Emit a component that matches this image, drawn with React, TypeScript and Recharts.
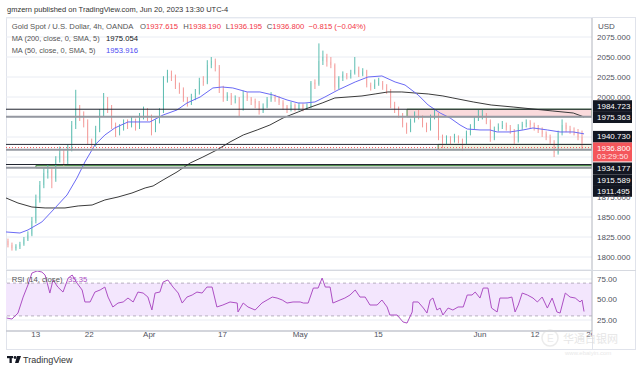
import React from "react";
import {
  ComposedChart,
  Bar,
  Line,
  XAxis,
  YAxis,
  CartesianGrid,
  ReferenceLine,
  ReferenceArea,
} from "recharts";

// ---------- DATA ----------
// Coarse candles: [open, high, low, close]
const candles: [number, number, number, number][] = [
  [1820, 1823, 1812, 1815], [1815, 1818, 1808, 1811], [1811, 1816, 1808, 1813], [1813, 1819, 1810, 1816],
  [1816, 1825, 1814, 1822], [1822, 1832, 1820, 1828], [1828, 1850, 1826, 1845], [1845, 1878, 1842, 1872],
  [1872, 1895, 1868, 1890], [1890, 1912, 1886, 1905], [1905, 1915, 1898, 1908], [1908, 1912, 1886, 1898],
  [1898, 1926, 1894, 1922], [1922, 1938, 1918, 1930], [1930, 1934, 1914, 1920], [1920, 1940, 1916, 1935],
  [1935, 1970, 1932, 1965], [1965, 2009, 1960, 1985], [1985, 1990, 1970, 1975], [1975, 1982, 1962, 1968],
  [1968, 1972, 1940, 1945], [1945, 1948, 1936, 1940], [1940, 1964, 1938, 1960], [1960, 1985, 1956, 1980],
  [1980, 2005, 1976, 1992], [1992, 2000, 1980, 1985], [1985, 1990, 1960, 1965], [1965, 1968, 1950, 1955],
  [1955, 1966, 1952, 1962], [1962, 1972, 1958, 1968], [1968, 1972, 1960, 1965], [1965, 1975, 1962, 1970],
  [1970, 1973, 1958, 1962], [1962, 1980, 1960, 1975], [1975, 1988, 1972, 1984], [1984, 1986, 1970, 1975],
  [1975, 1978, 1952, 1960], [1960, 1972, 1956, 1970], [1970, 1986, 1967, 1982], [1982, 2026, 1980, 2022],
  [2022, 2034, 2018, 2030], [2030, 2033, 2020, 2026], [2026, 2028, 2010, 2015], [2015, 2018, 2004, 2010],
  [2010, 2012, 1994, 1998], [1998, 2000, 1988, 1992], [1992, 2004, 1990, 2000], [2000, 2010, 1996, 2005],
  [2005, 2024, 2003, 2020], [2020, 2026, 2014, 2018], [2018, 2046, 2016, 2040], [2040, 2050, 2036, 2045],
  [2045, 2048, 2032, 2038], [2038, 2040, 2005, 2010], [2010, 2014, 1994, 1998], [1998, 2006, 1995, 2002],
  [2002, 2005, 1990, 1996], [1996, 2002, 1992, 1998], [1998, 2000, 1976, 1985], [1985, 2008, 1983, 2003],
  [2003, 2006, 1995, 1998], [1998, 2000, 1990, 1995], [1995, 1998, 1986, 1992], [1992, 1995, 1978, 1982],
  [1982, 1992, 1980, 1988], [1988, 2000, 1986, 1997], [1997, 2006, 1994, 2000], [2000, 2003, 1994, 1998],
  [1998, 2001, 1990, 1993], [1993, 1996, 1984, 1988], [1988, 1990, 1980, 1985], [1985, 1994, 1982, 1990],
  [1990, 1992, 1982, 1985], [1985, 1993, 1983, 1990], [1990, 1992, 1982, 1986], [1986, 1992, 1984, 1988],
  [1988, 2020, 1986, 2018], [2018, 2022, 2010, 2016], [2016, 2067, 2014, 2045], [2045, 2058, 2040, 2050],
  [2050, 2054, 2038, 2044], [2044, 2050, 2036, 2040], [2040, 2042, 2008, 2012], [2012, 2026, 2010, 2024],
  [2024, 2032, 2020, 2028], [2028, 2030, 2022, 2026], [2026, 2034, 2023, 2030], [2030, 2050, 2028, 2034],
  [2034, 2038, 2025, 2028], [2028, 2036, 2026, 2032], [2032, 2034, 2012, 2015], [2015, 2018, 2008, 2012],
  [2012, 2022, 2010, 2016], [2016, 2024, 2014, 2018], [2018, 2020, 2009, 2012], [2012, 2016, 2004, 2008],
  [2008, 2010, 1986, 1990], [1990, 1994, 1980, 1984], [1984, 1988, 1974, 1978], [1978, 1980, 1962, 1966],
  [1966, 1968, 1954, 1958], [1958, 1973, 1956, 1970], [1970, 1982, 1968, 1978], [1978, 1984, 1972, 1975],
  [1975, 1977, 1962, 1965], [1965, 1968, 1956, 1960], [1960, 1978, 1958, 1975], [1975, 1984, 1972, 1978],
  [1978, 1980, 1946, 1950], [1950, 1953, 1936, 1942], [1942, 1952, 1940, 1948], [1948, 1951, 1940, 1945],
  [1945, 1954, 1943, 1950], [1950, 1952, 1942, 1946], [1946, 1948, 1933, 1942], [1942, 1958, 1940, 1955],
  [1955, 1966, 1952, 1962], [1962, 1976, 1960, 1972], [1972, 1984, 1970, 1975], [1975, 1985, 1972, 1978],
  [1978, 1980, 1966, 1970], [1970, 1972, 1944, 1948], [1948, 1963, 1946, 1960], [1960, 1967, 1957, 1963],
  [1963, 1970, 1960, 1965], [1965, 1968, 1958, 1962], [1962, 1965, 1954, 1958], [1958, 1960, 1941, 1945],
  [1945, 1966, 1943, 1962], [1962, 1969, 1959, 1966], [1966, 1972, 1962, 1968], [1968, 1971, 1961, 1965],
  [1965, 1968, 1958, 1962], [1962, 1965, 1955, 1958], [1958, 1962, 1950, 1954], [1954, 1957, 1946, 1950],
  [1950, 1953, 1940, 1943], [1943, 1946, 1925, 1930], [1930, 1958, 1928, 1955], [1955, 1972, 1952, 1965],
  [1965, 1968, 1956, 1960], [1960, 1964, 1954, 1957], [1957, 1962, 1952, 1955], [1955, 1960, 1946, 1950],
  [1950, 1958, 1934, 1936.8],
];

// MA(200) at bar positions
const ma200Idx = [-0.5, 2.5, 6.0, 9.3, 14.3, 17.6, 21.1, 24.3, 27.6, 31.1, 34.4, 36.4, 38.9, 42.4, 45.7, 48.9, 52.4, 55.7, 59.0, 62.5, 65.7, 69.0, 72.8, 75.3, 78.8, 82.0, 85.3, 88.8, 92.1, 95.3, 98.8, 102.1, 105.4, 109.1, 111.6, 116.7, 121.2, 126.7, 131.7, 136.7, 141.8, 144.5];
const ma200Val = [1873.8, 1867.5, 1862.5, 1861.3, 1861.3, 1863.8, 1865.0, 1871.3, 1875.0, 1880.0, 1886.3, 1888.8, 1896.3, 1906.3, 1917.5, 1925.0, 1933.8, 1943.8, 1952.5, 1958.8, 1965.0, 1973.8, 1981.3, 1986.3, 1992.5, 1998.8, 2000.0, 2001.3, 2003.8, 2006.3, 2006.3, 2005.0, 2003.8, 2001.3, 1998.8, 1993.8, 1990.0, 1987.5, 1985.0, 1982.5, 1980.0, 1975.054];

// MA(50)
const ma50Idx = [-0.5, 3.0, 5.0, 8.5, 11.8, 14.8, 17.3, 19.3, 21.8, 24.3, 26.8, 30.1, 32.6, 35.6, 38.9, 42.4, 44.9, 48.2, 51.4, 53.7, 56.4, 60.0, 63.2, 66.5, 70.0, 72.8, 74.5, 77.0, 79.5, 82.8, 87.1, 90.3, 93.8, 97.1, 99.6, 102.9, 105.4, 108.4, 110.9, 113.4, 115.2, 118.4, 120.9, 122.7, 125.9, 129.2, 131.7, 135.3, 138.5, 141.8, 144.5];
const ma50Val = [1831.3, 1830.0, 1833.8, 1843.8, 1861.3, 1877.5, 1898.8, 1918.8, 1940.0, 1952.5, 1961.3, 1968.8, 1968.8, 1968.8, 1977.5, 1983.8, 1992.5, 2000.0, 2011.3, 2012.5, 2011.3, 2006.3, 2006.3, 2002.5, 1996.3, 1992.5, 1992.5, 1993.8, 2000.0, 2008.8, 2018.8, 2025.0, 2026.3, 2018.8, 2015.0, 2002.5, 1990.0, 1980.0, 1973.8, 1965.0, 1960.0, 1958.8, 1958.8, 1956.3, 1956.3, 1958.8, 1961.3, 1958.8, 1956.3, 1956.3, 1953.916];

// RSI(14)
const rsiIdx = [-0.3, 1.0, 2.5, 3.8, 5.0, 6.0, 7.3, 8.5, 9.3, 10.5, 11.3, 12.5, 13.8, 15.1, 16.1, 17.3, 18.6, 19.3, 20.6, 21.8, 23.1, 24.3, 25.1, 26.3, 27.6, 28.9, 30.1, 31.4, 32.6, 33.9, 35.1, 36.1, 36.9, 38.1, 38.9, 40.1, 41.4, 42.7, 43.7, 44.9, 46.2, 47.4, 48.7, 49.9, 51.2, 52.4, 53.9, 55.7, 57.5, 57.7, 59.0, 60.2, 62.0, 63.7, 65.0, 66.3, 67.5, 68.8, 70.0, 71.5, 73.3, 74.1, 75.3, 76.6, 77.8, 78.8, 79.6, 80.8, 81.5, 83.3, 84.5, 85.8, 87.1, 88.3, 89.6, 90.8, 92.6, 93.8, 95.1, 95.8, 97.6, 99.1, 100.1, 101.4, 101.6, 102.9, 104.2, 105.1, 105.9, 106.6, 107.6, 108.4, 109.1, 110.4, 111.6, 112.9, 114.2, 115.2, 116.4, 117.2, 118.4, 119.2, 120.4, 121.3, 122.7, 123.4, 125.4, 126.4, 127.2, 128.0, 129.0, 130.3, 131.7, 132.8, 134.0, 135.3, 136.5, 137.7, 138.5, 139.8, 141.0, 142.3, 143.5, 144.0, 144.5];
const rsiVal = [27.4, 26.2, 33.5, 53.0, 67.7, 82.3, 84.8, 83.5, 79.9, 57.9, 73.8, 65.2, 59.1, 76.2, 79.9, 70.1, 61.6, 47.0, 47.0, 59.1, 61.6, 65.2, 53.0, 40.9, 45.7, 47.0, 51.8, 47.0, 59.1, 57.9, 53.0, 37.2, 57.9, 59.1, 71.3, 73.8, 65.2, 57.9, 45.7, 53.0, 55.5, 59.1, 57.9, 65.2, 65.2, 40.9, 43.3, 47.0, 45.7, 34.8, 45.7, 40.9, 37.2, 45.7, 49.4, 53.0, 51.8, 49.4, 45.7, 47.0, 47.0, 45.7, 45.7, 64.0, 64.0, 76.2, 65.2, 65.2, 45.7, 49.4, 51.8, 55.5, 61.6, 53.0, 53.0, 43.3, 43.3, 49.4, 40.9, 31.1, 31.1, 22.6, 21.3, 34.8, 47.0, 47.0, 39.6, 33.5, 49.4, 51.8, 37.2, 39.6, 31.1, 39.6, 37.2, 40.9, 40.9, 55.5, 55.5, 59.1, 51.8, 64.0, 64.0, 39.6, 34.8, 51.8, 51.8, 53.0, 34.8, 43.3, 57.9, 55.5, 51.8, 47.0, 53.0, 39.6, 51.8, 34.8, 33.5, 57.9, 53.0, 51.8, 47.0, 49.4, 35.35];

// Horizontal levels drawn on the chart
const levelPrices = [1984.723, 1975.363, 1940.73, 1934.177, 1915.589, 1911.495];
const lastPrice = 1936.8;
const countdown = "03:29:50";

// Rectangles (start bar index, low, high)
const boxStart = [100.1, 107.9, 7.0];
const boxLow = [1975.363, 1934.177, 1911.495];
const boxHigh = [1984.723, 1940.73, 1914.3];

// Axes
const priceTicks = [1800, 1825, 1850, 1875, 1900, 1925, 1950, 1975, 2000, 2025, 2050, 2075];
const hiddenPriceTicks = [1900, 1925, 1950, 1975];
const rsiTicks = [25, 50, 75];
const timeTickIdx = [6.95, 20.4, 35.45, 53.8, 73.3, 92.9, 118.4, 132.2, 146.2];
const timeTickLabels = ["13", "22", "Apr", "17", "May", "15", "Jun", "12", "20"];

// ---------- STYLE ----------
const FONT = '"Liberation Sans", Arial, sans-serif';
const UP = "#5cbdb0";
const DOWN = "#f39a98";
const GRID = "#e9ecf3";
const AXIS = "#b2b5be";
const TXT = "#50535e";
const X_DOMAIN: [number, number] = [-0.5, 146.5];
const PRICE_DOMAIN: [number, number] = [1783.75, 2098.75];
const RSI_DOMAIN: [number, number] = [11.6, 86];

const levelStroke = ["#1e222d", "#9598a1", "#2a2e39", "#9598a1", "#1e222d", "#9598a1"];
const levelWidth = [1, 2, 1, 2, 1, 2];
const levelTagShift = [-3.2, 0.5, -7.7, 18.6, 15.5, 23.2];
const boxFill = ["#f9d3d6", "#eef2df", "#cfe6cc"];

const candleRows = candles.map((c, i) => ({ i, o: c[0], h: c[1], l: c[2], c: c[3] }));
const ma200Rows = ma200Idx.map((i, k) => ({ i, v: ma200Val[k] }));
const ma50Rows = ma50Idx.map((i, k) => ({ i, v: ma50Val[k] }));
const rsiRows = rsiIdx.map((i, k) => ({ i, v: rsiVal[k] }));

const vGrid = ({ xAxis }: any) =>
  xAxis && typeof xAxis.scale === "function" ? timeTickIdx.map((v) => xAxis.scale(v)) : [];

const Candle = (props: any) => {
  const { x, y, width, height, payload } = props;
  if (payload == null || x == null) return null;
  const top = Math.min(y, y + height);
  const hgt = Math.abs(height);
  const { o, h, l, c } = payload;
  const span = h - l || 1;
  const py = (v: number) => top + ((h - v) / span) * hgt;
  const col = c >= o ? UP : DOWN;
  const cx = x + width / 2;
  const b1 = py(Math.max(o, c));
  const b2 = py(Math.min(o, c));
  return (
    <g>
      <line x1={cx} x2={cx} y1={top} y2={top + hgt} stroke={col} strokeWidth={1} />
      <rect x={x} y={b1} width={width} height={Math.max(1, b2 - b1)} fill={col} />
    </g>
  );
};

const Tag = (props: any) => {
  const { viewBox, text, shift, bg, sub } = props;
  if (!viewBox) return null;
  const x = viewBox.x + viewBox.width + 1;
  const cy = viewBox.y + shift;
  const h = sub ? 19 : 11.6;
  return (
    <g>
      <rect x={x} y={cy - 5.8} width={39} height={h} fill={bg} />
      <text x={x + 4} y={cy} fill="#ffffff" fontSize={8} fontFamily={FONT} dominantBaseline="central">
        {text}
      </text>
      {sub ? (
        <text x={x + 4} y={cy + 8.4} fill="#ffe3e3" fontSize={8} fontFamily={FONT} dominantBaseline="central">
          {sub}
        </text>
      ) : null}
    </g>
  );
};

const PriceTick = (props: any) => {
  const { x, y, payload } = props;
  if (hiddenPriceTicks.includes(payload.value)) return <g />;
  return (
    <text x={x} y={y} fill={TXT} fontSize={8} fontFamily={FONT} dominantBaseline="central">
      {payload.value.toFixed(3)}
    </text>
  );
};

const TimeTick = (props: any) => {
  const { x, y, payload } = props;
  const label = timeTickLabels[timeTickIdx.indexOf(payload.value)] ?? "";
  return (
    <g>
      <defs>
        <clipPath id={"tclip" + payload.value}>
          <rect x={0} y={0} width={592} height={373} />
        </clipPath>
      </defs>
      <text x={x} y={y + 6} fill={TXT} fontSize={8} fontFamily={FONT} textAnchor="middle" clipPath={`url(#tclip${payload.value})`}>
        {label}
      </text>
    </g>
  );
};

const abs = (left: number, top: number, extra: any = {}) => ({
  position: "absolute" as const,
  left,
  top,
  fontSize: 7.7,
  lineHeight: "10px",
  whiteSpace: "nowrap" as const,
  fontFamily: FONT,
  ...extra,
});

export default function App() {
  return (
    <div style={{ position: "absolute", left: 0, top: 0, width: 643, height: 373, background: "#fff", overflow: "hidden", fontFamily: FONT }}>
      {/* frame */}
      <svg width={643} height={373} style={{ position: "absolute", left: 0, top: 0 }}>
        <rect x={6.5} y={17.5} width={629} height={332} fill="#fff" stroke="#e0e3eb" />
      </svg>

      {/* main price pane */}
      <div style={{ position: "absolute", left: 0, top: 0 }}>
        <ComposedChart width={643} height={270} data={candleRows} margin={{ top: 18, right: 0, bottom: 0, left: 6 }}>
          <CartesianGrid stroke={GRID} verticalCoordinatesGenerator={vGrid} />
          <XAxis type="number" dataKey="i" domain={X_DOMAIN} allowDataOverflow ticks={timeTickIdx} interval={0} height={0} tick={false} axisLine={false} tickLine={false} />
          <YAxis
            orientation="right"
            width={51}
            domain={PRICE_DOMAIN}
            allowDataOverflow
            ticks={priceTicks}
            interval={0}
            tick={<PriceTick />}
            tickLine={false}
            tickSize={0}
            tickMargin={5}
            axisLine={{ stroke: AXIS }}
          />
          {boxStart.map((s, k) => (
            <ReferenceArea key={"b" + k} x1={s} x2={X_DOMAIN[1]} y1={boxLow[k]} y2={boxHigh[k]} fill={boxFill[k]} fillOpacity={0.85} stroke="#4c8c4a" strokeWidth={1} ifOverflow="hidden" />
          ))}
          <Bar dataKey={(d: any) => [d.l, d.h]} barSize={2.4} shape={<Candle />} isAnimationActive={false} />
          <Line data={ma200Rows} dataKey="v" type="linear" stroke="#3b3b3b" strokeWidth={1} dot={false} isAnimationActive={false} />
          <Line data={ma50Rows} dataKey="v" type="linear" stroke="#6a6af5" strokeWidth={1} dot={false} isAnimationActive={false} />
          {levelPrices.map((p, k) => (
            <ReferenceLine
              key={"l" + k}
              y={p}
              stroke={levelStroke[k]}
              strokeWidth={levelWidth[k]}
              label={<Tag text={p.toFixed(3)} shift={levelTagShift[k]} bg="#131722" />}
            />
          ))}
          <ReferenceLine y={lastPrice} stroke="#f4565b" strokeDasharray="1 2" label={<Tag text={lastPrice.toFixed(3)} shift={0.7} bg="#f4565b" sub={countdown} />} />
        </ComposedChart>
      </div>

      {/* RSI pane */}
      <div style={{ position: "absolute", left: 0, top: 0 }}>
        <ComposedChart width={643} height={349} data={rsiRows} margin={{ top: 270, right: 0, bottom: 0, left: 6 }}>
          <CartesianGrid stroke={GRID} verticalCoordinatesGenerator={vGrid} />
          <XAxis
            type="number"
            dataKey="i"
            domain={X_DOMAIN}
            allowDataOverflow
            ticks={timeTickIdx}
            interval={0}
            height={18}
            tickLine={false}
            tickSize={0}
            tickMargin={0}
            axisLine={{ stroke: AXIS }}
            tick={<TimeTick />}
          />
          <YAxis
            orientation="right"
            width={51}
            domain={RSI_DOMAIN}
            allowDataOverflow
            ticks={rsiTicks}
            interval={0}
            tickFormatter={(v: number) => v.toFixed(2)}
            tick={{ fontSize: 8, fill: TXT, fontFamily: FONT, textAnchor: "start" }}
            tickLine={false}
            tickSize={0}
            tickMargin={5}
            axisLine={{ stroke: AXIS }}
          />
          <ReferenceArea y1={30} y2={70} fill="#f3e6fd" fillOpacity={1} stroke="none" />
          <ReferenceLine y={70} stroke="#b7b0bf" strokeDasharray="3 3" />
          <ReferenceLine y={30} stroke="#b7b0bf" strokeDasharray="3 3" />
          <Line dataKey="v" type="linear" stroke="#ad4fc4" strokeWidth={1} dot={false} isAnimationActive={false} />
        </ComposedChart>
      </div>

      {/* separators */}
      <svg width={643} height={373} style={{ position: "absolute", left: 0, top: 0, pointerEvents: "none" }}>
        <line x1={6} x2={636} y1={270.5} y2={270.5} stroke="#d6d9e0" />
        <line x1={592.5} x2={592.5} y1={331} y2={349} stroke="#e0e3eb" />
      </svg>

      {/* header */}
      <div style={abs(7, 4.5, { color: "#333", fontSize: 7.5 })}>gmzern published on TradingView.com, Jun 20, 2023 13:30 UTC-4</div>
      <div style={abs(598, 21.5, { color: TXT, fontSize: 8 })}>USD</div>

      {/* legend */}
      <div style={abs(11.7, 21.7, { color: "#555" })}>Gold Spot / U.S. Dollar, 4h, OANDA</div>
      <div style={abs(140, 21.7, { color: "#555" })}>O<span style={{ color: "#f23645" }}>1937.615</span></div>
      <div style={abs(183.3, 21.7, { color: "#555" })}>H<span style={{ color: "#f23645" }}>1938.190</span></div>
      <div style={abs(225.7, 21.7, { color: "#555" })}>L<span style={{ color: "#f23645" }}>1936.195</span></div>
      <div style={abs(266.7, 21.7, { color: "#555" })}>C<span style={{ color: "#f23645" }}>1936.800</span></div>
      <div style={abs(308.5, 21.7, { color: "#f23645" })}>−0.815 (−0.04%)</div>
      <div style={abs(11.7, 33.7, { color: "#555", fontSize: 7.4 })}>MA (200, close, 0, SMA, 5)</div>
      <div style={abs(106, 33.7, { color: "#131722" })}>1975.054</div>
      <div style={abs(11.7, 45.7, { color: "#555", fontSize: 7.4 })}>MA (50, close, 0, SMA, 5)</div>
      <div style={abs(106, 45.7, { color: "#4b4bf2" })}>1953.916</div>
      <div style={abs(11.7, 275, { color: "#555" })}>RSI (14, close)</div>
      <div style={abs(68, 275, { color: "#ad4fc4" })}>35.35</div>

      {/* footer logo */}
      <svg width={20} height={10} style={{ position: "absolute", left: 7, top: 355 }}>
        <rect x={0} y={1} width={6} height={2.2} fill="#131722" />
        <rect x={2.5} y={1} width={2.3} height={7} fill="#131722" />
        <circle cx={8} cy={2.5} r={1.4} fill="#131722" />
        <polygon points="10,1 14,1 11.5,8 8,8" fill="#131722" />
      </svg>
      <div style={abs(23, 355, { fontSize: 9, color: "#333" })}>TradingView</div>

      {/* watermark */}
      <svg width={100} height={40} style={{ position: "absolute", left: 540, top: 326, opacity: 0.5 }}>
        <circle cx={10} cy={12} r={8} fill="none" stroke="#d8d8d8" strokeWidth={1.5} />
        <text x={7} y={16} fontSize={10} fill="#d8d8d8" fontFamily={FONT}>E</text>
      </svg>
      <div style={abs(563, 333, { fontSize: 11, color: "#dcdcdc", fontFamily: '"Noto Sans CJK SC", sans-serif', opacity: 0.7 })}>华通白银网</div>
      <div style={abs(565, 348, { fontSize: 6, color: "#e0e0e0", opacity: 0.7 })}>www.ebaiyin.com</div>
    </div>
  );
}
